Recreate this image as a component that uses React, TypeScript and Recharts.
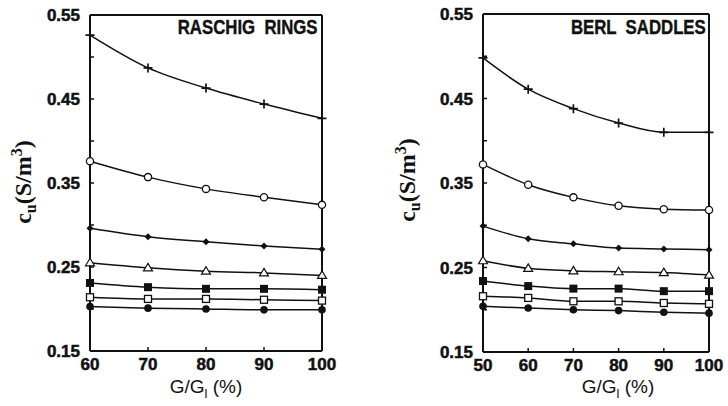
import { LineChart, Line, XAxis, YAxis, ReferenceLine } from "recharts";

// x positions (G/Gl, %)
const RASCHIG_X = [60, 70, 80, 90, 100];
const BERL_X = [50, 60, 70, 80, 90, 100];

// Raschig rings, c_u (S/m3), one array per marker
const RASCHIG_PLUS = [0.526, 0.487, 0.463, 0.444, 0.427];
const RASCHIG_OCIRCLE = [0.376, 0.357, 0.343, 0.333, 0.324];
const RASCHIG_DIAMOND = [0.296, 0.286, 0.28, 0.275, 0.271];
const RASCHIG_TRIANGLE = [0.255, 0.249, 0.245, 0.243, 0.24];
const RASCHIG_FSQUARE = [0.231, 0.226, 0.224, 0.224, 0.223];
const RASCHIG_OSQUARE = [0.214, 0.212, 0.212, 0.211, 0.21];
const RASCHIG_FCIRCLE = [0.203, 0.201, 0.2, 0.199, 0.199];

// Berl saddles
const BERL_PLUS = [0.498, 0.461, 0.438, 0.421, 0.41, 0.41];
const BERL_OCIRCLE = [0.372, 0.348, 0.333, 0.323, 0.319, 0.318];
const BERL_DIAMOND = [0.299, 0.284, 0.278, 0.273, 0.272, 0.271];
const BERL_TRIANGLE = [0.258, 0.249, 0.246, 0.245, 0.244, 0.241];
const BERL_FSQUARE = [0.234, 0.228, 0.225, 0.225, 0.222, 0.222];
const BERL_OSQUARE = [0.216, 0.214, 0.21, 0.21, 0.208, 0.207];
const BERL_FCIRCLE = [0.204, 0.202, 0.2, 0.199, 0.197, 0.196];

const Y_TICKS = [0.15, 0.2, 0.25, 0.3, 0.35, 0.4, 0.45, 0.5, 0.55];
const Y_LABELED = ["0.15", "0.25", "0.35", "0.45", "0.55"];

const KEYS = ["plus", "ocircle", "diamond", "triangle", "fsquare", "osquare", "fcircle"];

function buildRows(xs: number[], series: number[][]) {
  return xs.map((x, i) => {
    const row: Record<string, number> = { x };
    KEYS.forEach((k, j) => { row[k] = series[j][i]; });
    return row;
  });
}

const raschigRows = buildRows(RASCHIG_X, [
  RASCHIG_PLUS, RASCHIG_OCIRCLE, RASCHIG_DIAMOND, RASCHIG_TRIANGLE,
  RASCHIG_FSQUARE, RASCHIG_OSQUARE, RASCHIG_FCIRCLE,
]);
const berlRows = buildRows(BERL_X, [
  BERL_PLUS, BERL_OCIRCLE, BERL_DIAMOND, BERL_TRIANGLE,
  BERL_FSQUARE, BERL_OSQUARE, BERL_FCIRCLE,
]);

const INK = "#111";
const TICK_FONT = "'Liberation Sans', Arial, sans-serif";

/* ---------- markers ---------- */
function marker(kind: string) {
  return (p: any) => {
    const { cx, cy, index } = p;
    if (cx == null || cy == null) return <g key={index} />;
    let el = null;
    switch (kind) {
      case "plus":
        el = <path d={`M${cx - 4.5},${cy}H${cx + 4.5}M${cx},${cy - 4.5}V${cy + 4.5}`} stroke={INK} strokeWidth={1.7} />;
        break;
      case "ocircle":
        el = <circle cx={cx} cy={cy} r={3.6} fill="#fff" stroke={INK} strokeWidth={1.3} />;
        break;
      case "diamond":
        el = <path d={`M${cx},${cy - 3.5}L${cx + 3.5},${cy}L${cx},${cy + 3.5}L${cx - 3.5},${cy}Z`} fill={INK} />;
        break;
      case "triangle":
        el = <path d={`M${cx},${cy - 4.5}L${cx + 4.5},${cy + 3}L${cx - 4.5},${cy + 3}Z`} fill="#fff" stroke={INK} strokeWidth={1.2} />;
        break;
      case "fsquare":
        el = <rect x={cx - 4} y={cy - 4} width={8} height={8} fill={INK} />;
        break;
      case "osquare":
        el = <rect x={cx - 3.5} y={cy - 3.5} width={7} height={7} fill="#fff" stroke={INK} strokeWidth={1.3} />;
        break;
      default:
        el = <circle cx={cx} cy={cy} r={3.8} fill={INK} />;
    }
    return <g key={index}>{el}</g>;
  };
}

/* ---------- ticks (inward tick marks, labels outside) ---------- */
function XTick(p: any) {
  const { x, y, payload } = p;
  return (
    <g>
      <line x1={x} y1={y} x2={x} y2={y - 4} stroke={INK} strokeWidth={1.5} />
      <text x={x} y={y + 19} textAnchor="middle" fontFamily={TICK_FONT} fontWeight="bold" fontSize={17}
        fill={INK} stroke={INK} strokeWidth={0.5}>
        {payload.value}
      </text>
    </g>
  );
}

function YTick(p: any) {
  const { x, y, payload } = p;
  const label = payload.value.toFixed(2);
  return (
    <g>
      <line x1={x} y1={y} x2={x + 4} y2={y} stroke={INK} strokeWidth={1.5} />
      {Y_LABELED.includes(label) && (
        <text x={x - 10} y={y + 6} textAnchor="end" fontFamily={TICK_FONT} fontWeight="bold" fontSize={17}
          fill={INK} stroke={INK} strokeWidth={0.5}>
          {label}
        </text>
      )}
    </g>
  );
}

interface PanelProps {
  rows: Record<string, number>[];
  xs: number[];
  width: number;
  top: number;
  right: number;
  yAxisWidth: number;
  xAxisHeight: number;
}

function Panel({ rows, xs, width, top, right, yAxisWidth, xAxisHeight }: PanelProps) {
  const xMin = xs[0];
  const xMax = xs[xs.length - 1];
  return (
    <LineChart width={width} height={406} data={rows} margin={{ top, right, left: 0, bottom: 0 }}>
      <XAxis
        dataKey="x" type="number" domain={[xMin, xMax]} ticks={xs}
        height={xAxisHeight} tickSize={0} tickMargin={0} tick={<XTick />}
        axisLine={{ stroke: INK, strokeWidth: 2 }} tickLine={false}
      />
      <YAxis
        type="number" domain={[0.15, 0.55]} ticks={Y_TICKS} allowDataOverflow
        width={yAxisWidth} tickSize={0} tickMargin={0} tick={<YTick />}
        axisLine={{ stroke: INK, strokeWidth: 2 }} tickLine={false}
      />
      <ReferenceLine y={0.55} stroke={INK} strokeWidth={2} />
      <ReferenceLine x={xMax} stroke={INK} strokeWidth={2} />
      {KEYS.map((k) => (
        <Line
          key={k} dataKey={k} type="monotone" stroke={INK} strokeWidth={1.5}
          dot={marker(k)} activeDot={false} isAnimationActive={false}
        />
      ))}
    </LineChart>
  );
}

const yTitleStyle: React.CSSProperties = {
  position: "absolute",
  transform: "translate(-50%, -50%) rotate(-90deg)",
  fontFamily: "'Liberation Serif', 'Times New Roman', serif",
  fontWeight: "bold",
  fontSize: 24,
  whiteSpace: "nowrap",
  color: INK,
};

const xTitleStyle: React.CSSProperties = {
  position: "absolute",
  transform: "translateX(-50%)",
  fontFamily: "'Liberation Sans', Arial, sans-serif",
  fontSize: 19,
  whiteSpace: "nowrap",
  color: INK,
  lineHeight: "20px",
};

const boxTitleStyle: React.CSSProperties = {
  position: "absolute",
  fontFamily: "'Liberation Sans', Arial, sans-serif",
  fontWeight: "bold",
  fontSize: 19.5,
  whiteSpace: "pre",
  color: INK,
  lineHeight: "20px",
  transform: "scaleX(0.86)",
  transformOrigin: "right center",
  WebkitTextStroke: "0.4px #111",
};

export default function App() {
  return (
    <div style={{ position: "absolute", left: 0, top: 0, width: 728, height: 406, background: "#fff", overflow: "hidden" }}>
      <div style={{ position: "absolute", left: 0, top: 0 }}>
        <Panel rows={raschigRows} xs={RASCHIG_X} width={340} top={15} right={18} yAxisWidth={90} xAxisHeight={55} />
      </div>
      <div style={{ position: "absolute", left: 364, top: 0 }}>
        <Panel rows={berlRows} xs={BERL_X} width={364} top={14} right={19} yAxisWidth={119} xAxisHeight={54} />
      </div>

      <div style={{ ...yTitleStyle, left: 24, top: 182 }}>
        c<sub style={{ fontSize: 16 }}>u</sub>(S/m<sup style={{ fontSize: 16 }}>3</sup>)
      </div>
      <div style={{ ...yTitleStyle, left: 408, top: 180 }}>
        c<sub style={{ fontSize: 16 }}>u</sub>(S/m<sup style={{ fontSize: 16 }}>3</sup>)
      </div>

      <div style={{ ...xTitleStyle, left: 206, top: 377 }}>
        G/G<sub style={{ fontSize: 13 }}>l</sub> (%)
      </div>
      <div style={{ ...xTitleStyle, left: 618, top: 377 }}>
        G/G<sub style={{ fontSize: 13 }}>l</sub> (%)
      </div>

      <div style={{ ...boxTitleStyle, right: 728 - 318, top: 17 }}>RASCHIG  RINGS</div>
      <div style={{ ...boxTitleStyle, right: 728 - 706, top: 17 }}>BERL  SADDLES</div>
    </div>
  );
}
